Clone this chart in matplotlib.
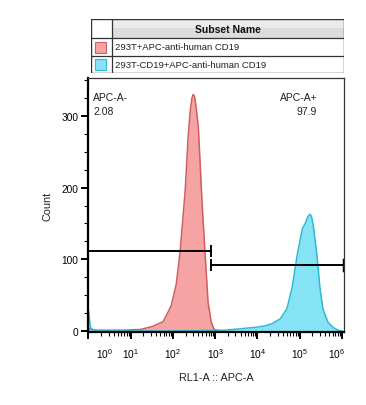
import matplotlib
matplotlib.use("Agg")
import matplotlib.pyplot as plt
import matplotlib.transforms as mtransforms
from matplotlib.patches import Rectangle
from matplotlib.ticker import LogLocator, FixedLocator, MultipleLocator, NullFormatter

plt.rcParams['font.family'] = ['Liberation Sans', 'DejaVu Sans']
plt.rcParams['mathtext.fontset'] = 'custom'
plt.rcParams['mathtext.rm'] = 'Liberation Sans'

# histogram 1: 293T + APC anti-human CD19 (intensity, count)
red_x = [1.0, 1.5, 6, 17, 32, 59, 91, 120, 148, 195, 229, 255, 280, 300, 322, 345,
         400, 490, 575, 680, 810, 950, 1320]
red_y = [3, 1, 1, 2, 6, 13, 35, 65, 110, 195, 270, 305, 324, 330, 328, 318,
         285, 180, 110, 40, 12, 2, 0]

# histogram 2: 293T-CD19 + APC anti-human CD19
cyan_x = [1.0, 1.12, 1.3, 2, 100, 1740, 3900, 8900, 15000, 22000, 35000,
          50000, 66000, 87000, 115000, 135000, 158000, 174000, 190000, 209000,
          257000, 302000, 355000, 468000, 617000, 813000, 1000000]
cyan_y = [30, 5, 1, 0, 0, 1, 3, 5, 7, 10, 17, 31, 60, 105, 142, 150, 160,
          163, 160, 148, 105, 60, 31, 12, 5, 1, 0]

subset_names = ['293T+APC-anti-human CD19', '293T-CD19+APC-anti-human CD19']
subset_colors = ['#F5A3A3', '#86E3F6']
edge_colors = ['#CF5F62', '#2DBBD4']

# gates: (name, value, lo, hi, y)
gate_neg = ('APC-A-', '2.08', 1.0, 800, 112)
gate_pos = ('APC-A+', '97.9', 800, 1.12e6, 92)

decades = [1, 10, 100, 1000, 1e4, 1e5, 1e6]
decade_labels = ['$10^{0}$', '$10^{1}$', '$10^{2}$', '$10^{3}$',
                 '$10^{4}$', '$10^{5}$', '$10^{6}$']

fig = plt.figure(figsize=(3.66, 4.06), dpi=100)
ax = fig.add_axes([88/366, 1-333/406, 256/366, 254/406])

ax.fill_between(red_x, red_y, color=subset_colors[0], lw=0)
ax.plot(red_x, red_y, color=edge_colors[0], lw=1.1)
ax.fill_between(cyan_x, cyan_y, color=subset_colors[1], lw=0)
ax.plot(cyan_x, cyan_y, color=edge_colors[1], lw=1.1)

ax.set_xscale('log')
ax.set_xlim(0.98, 1.12e6)
ax.set_ylim(-1.5, 353)

# gates
cap = 7
for name, val, lo, hi, y in [gate_neg, gate_pos]:
    ax.plot([lo, hi], [y, y], color='black', lw=1.4)
ax.plot([gate_neg[3]] * 2, [gate_neg[4] - cap, gate_neg[4] + cap], color='black', lw=1.4)
ax.plot([gate_pos[2]] * 2, [gate_pos[4] - cap, gate_pos[4] + cap], color='black', lw=1.4)
ax.plot([gate_pos[3]] * 2, [gate_pos[4] - cap, gate_pos[4] + cap], color='black', lw=2.5)

ax.text(0.02, 0.945, gate_neg[0] + '\n' + gate_neg[1], transform=ax.transAxes,
        ha='left', va='top', fontsize=7.5, linespacing=1.5, color='#222222')
ax.text(0.895, 0.945, gate_pos[0] + '\n' + gate_pos[1], transform=ax.transAxes,
        ha='right', va='top', multialignment='right', fontsize=7.5,
        linespacing=1.5, color='#222222')

# axes styling
ax.xaxis.set_major_locator(FixedLocator(decades))
ax.set_xticklabels(decade_labels)
ax.xaxis.set_minor_locator(LogLocator(base=10, subs=range(2, 10), numticks=20))
ax.xaxis.set_minor_formatter(NullFormatter())
ax.yaxis.set_major_locator(MultipleLocator(100))
ax.yaxis.set_minor_locator(MultipleLocator(25))

ax.tick_params(axis='both', which='major', direction='out', length=5, width=1.4,
               labelsize=7.3, colors='black')
ax.tick_params(axis='both', which='minor', direction='out', length=3, width=0.8)
ax.tick_params(axis='x', which='major', pad=5)
ax.tick_params(axis='y', which='major', pad=2)

for side in ['left', 'bottom']:
    ax.spines[side].set_linewidth(1.6)
for side in ['top', 'right']:
    ax.spines[side].set_linewidth(0.9)
    ax.spines[side].set_color('#333333')

labels = ax.get_xticklabels()
labels[0].set_transform(labels[0].get_transform() +
                        mtransforms.ScaledTranslation(0.16, 0, fig.dpi_scale_trans))
labels[-1].set_transform(labels[-1].get_transform() +
                         mtransforms.ScaledTranslation(-0.05, 0, fig.dpi_scale_trans))

ax.set_xlabel('RL1-A :: APC-A', fontsize=7.8, labelpad=9, color='#222222')
ax.set_ylabel('Count', fontsize=7.8, labelpad=6, color='#222222')

# subset legend table
tab = fig.add_axes([91/366, 1-74/406, 253/366, 54/406])
tab.set_xlim(0, 253)
tab.set_ylim(54, 0)
tab.axis('off')
tab.add_patch(Rectangle((21, 0), 232, 19, facecolor='#DCDCDC', edgecolor='none'))
tab.add_patch(Rectangle((21, 0), 232, 9, facecolor='#EBEBEB', edgecolor='none'))
tab.add_patch(Rectangle((0, 0), 253, 54, facecolor='none', edgecolor='#333333', lw=1.0))
for yy in [19, 37]:
    tab.plot([0, 253], [yy, yy], color='#333333', lw=0.9)
tab.plot([21, 21], [0, 54], color='#333333', lw=0.9)
tab.text(137, 10, 'Subset Name', ha='center', va='center', fontsize=7.5,
         fontweight='bold', color='#111111')
for i, (name, c, ec) in enumerate(zip(subset_names, subset_colors, edge_colors)):
    yc = 28 + 17 * i
    tab.add_patch(Rectangle((4, yc - 5.5), 11, 11, facecolor=c, edgecolor=ec, lw=0.8))
    tab.text(24, yc, name, ha='left', va='center', fontsize=6.8, color='#222222')

fig.savefig('out.png', dpi=100)
